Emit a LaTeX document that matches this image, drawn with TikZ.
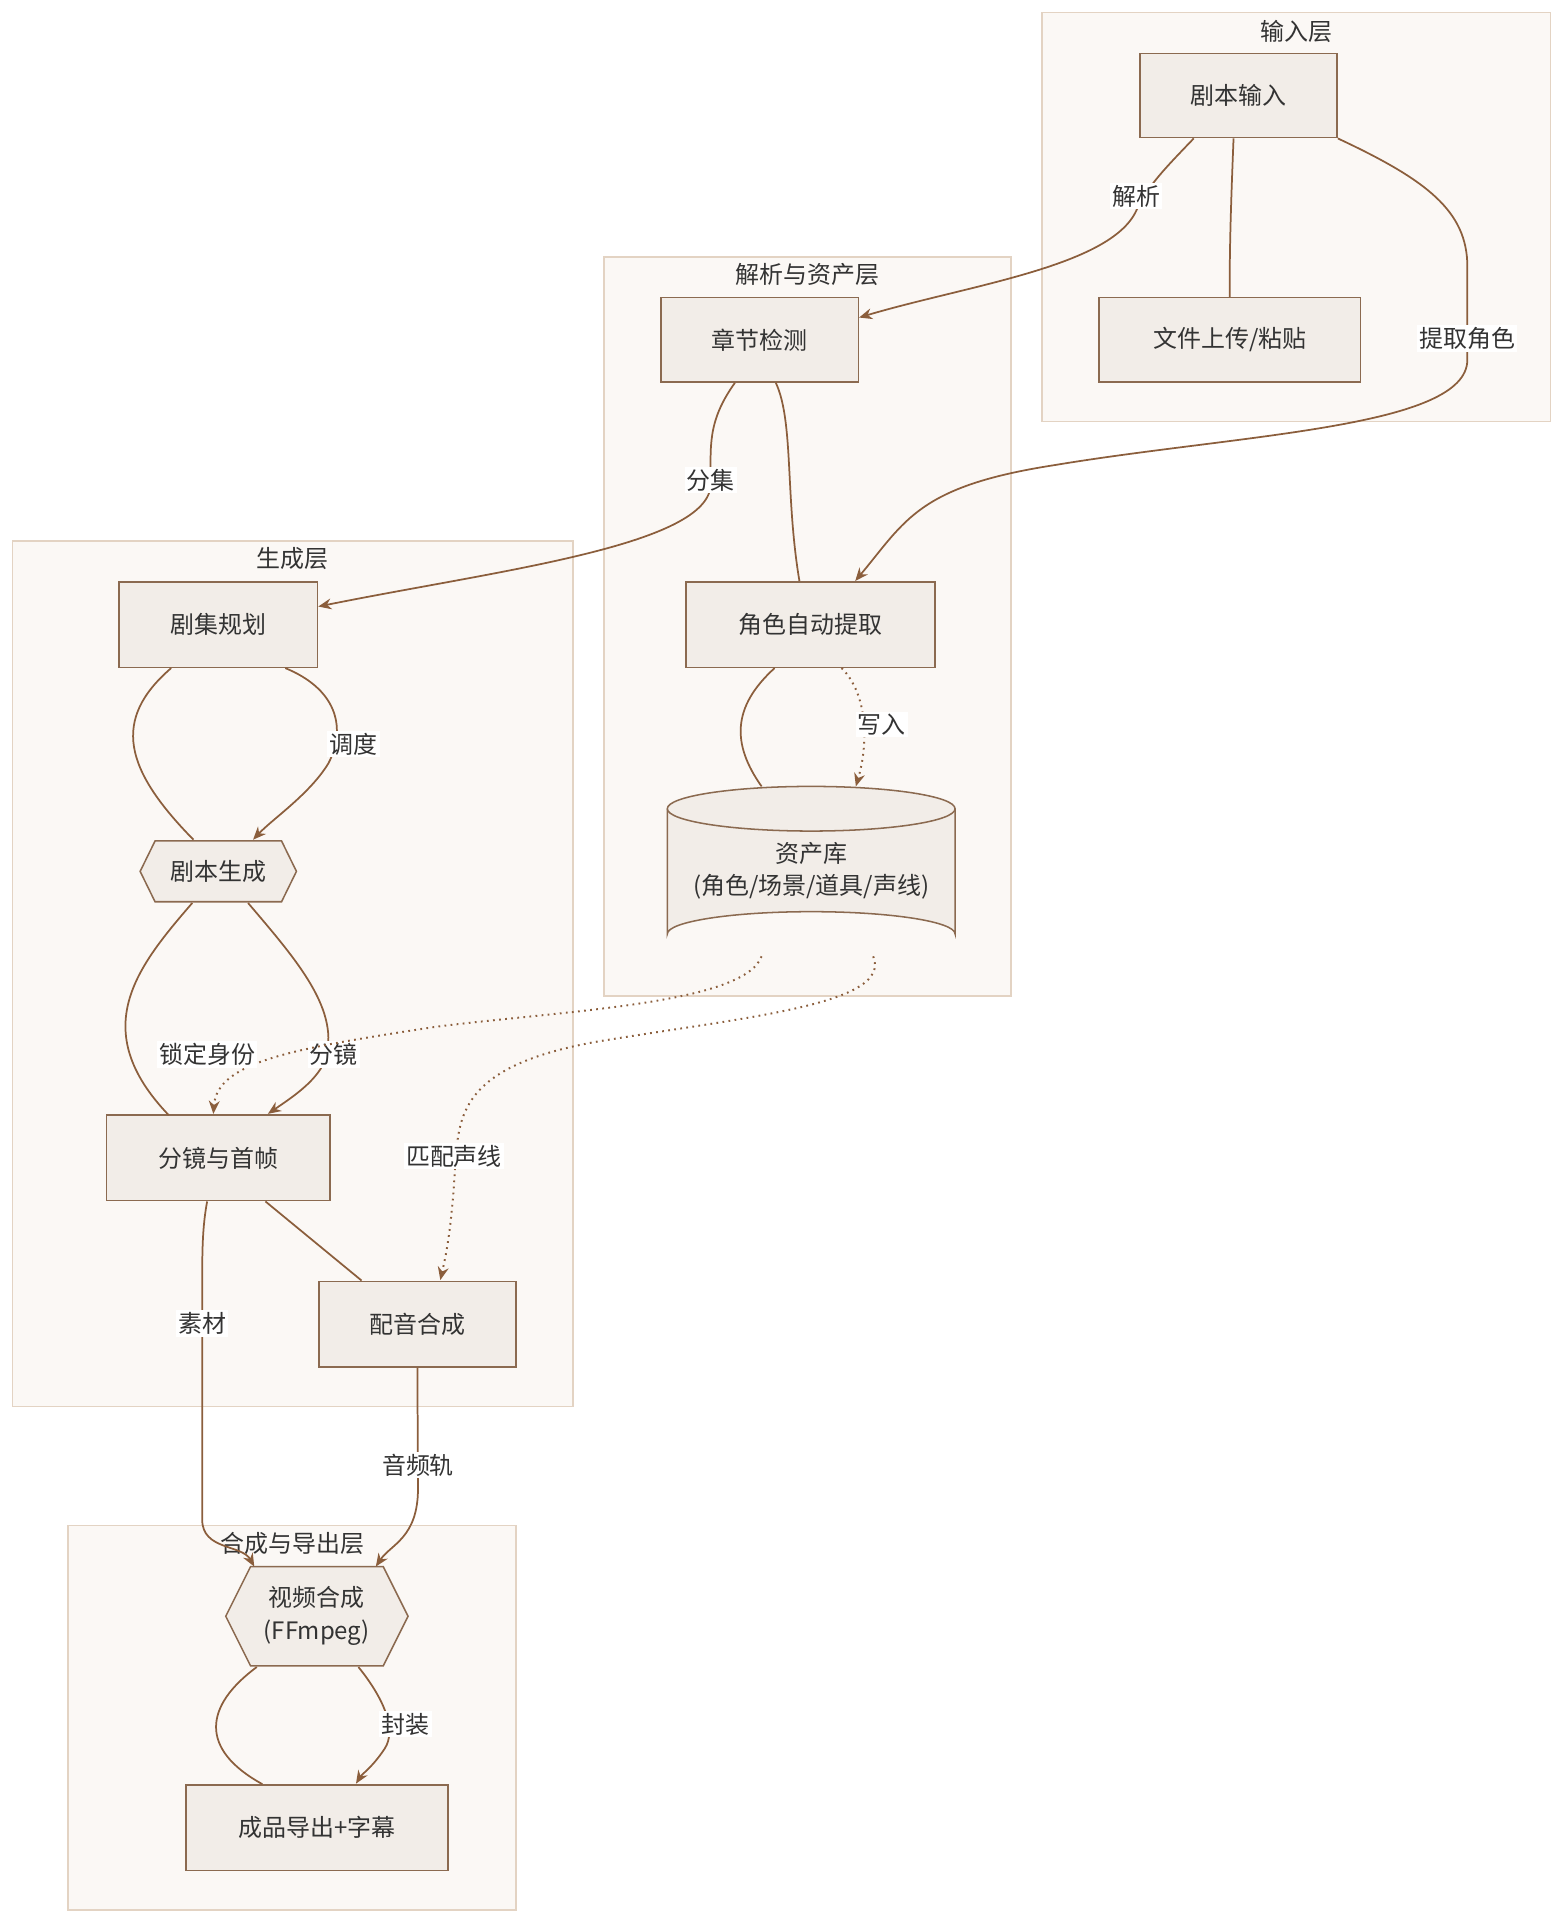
\documentclass[tikz,border=0pt]{standalone}
\usepackage{fontspec}
\setmainfont{Noto Sans CJK SC}
\usetikzlibrary{calc,arrows.meta}
\definecolor{nf}{HTML}{F2EDE8}
\definecolor{nb}{HTML}{8B6A50}
\definecolor{cf}{HTML}{FBF8F5}
\definecolor{cb}{HTML}{E3D3C3}
\definecolor{ec}{HTML}{8B5E3C}
\definecolor{tx}{HTML}{333333}
\begin{document}
\begin{tikzpicture}[x=0.02cm,y=-0.02cm,
  every node/.style={font=\fontsize{11}{14}\selectfont,text=tx},
  box/.style={draw=nb,fill=nf,line width=0.7pt,inner sep=0pt},
  clu/.style={draw=cb,fill=cf,line width=0.7pt},
  e/.style={draw=ec,line width=0.8pt},
  a/.style={e,-{Stealth[length=6pt,width=5pt]}},
  d/.style={a,dotted,line width=0.9pt},
  lab/.style={fill=white,inner sep=1pt}]
\useasboundingbox (0,0) rectangle (1264,1556);
% clusters
\fill[white] (0,0) rectangle (1264,1556);
\draw[clu] (840,10) rectangle (1250,340); \node (c1) at (1045,25) {输入层};
\draw[clu] (487,207) rectangle (815,803); \node (c2) at (651,221) {解析与资产层};
\draw[clu] (10,436) rectangle (462,1134); \node (c3) at (236,450) {生成层};
\draw[clu] (55,1230) rectangle (416,1540);
% nodes
\newcommand{\bx}[6]{\node[box,minimum width=#4*0.02cm,minimum height=#5*0.02cm] (#1) at (#2,#3) {#6};}
\bx{in}{998.5}{77}{159}{68}{剧本输入}
\bx{up}{991.5}{274}{211}{68}{文件上传/粘贴}
\bx{ch}{612.5}{274}{159}{68}{章节检测}
\bx{ro}{653.5}{503.5}{201}{69}{角色自动提取}
\bx{pl}{176}{503.5}{160}{69}{剧集规划}
\bx{sb}{176}{933.5}{180}{69}{分镜与首帧}
\bx{dub}{336.5}{1067.5}{159}{69}{配音合成}
\bx{ex}{255.5}{1473.5}{211}{69}{成品导出+字幕}
% cylinder
\draw[box] (538,652) -- (538,753) arc[start angle=180,end angle=360,x radius=116,y radius=18] -- (770,652);
\draw[box] (654,652) ellipse[x radius=116,y radius=18];
\node[align=center,inner sep=0pt,minimum width=232*0.02cm,minimum height=137*0.02cm] (as) at (654,702) {资产库\\[1pt](角色/场景/道具/声线)};
% hexagons
\draw[box] (113,702.5)--(125,678)--(227,678)--(239,702.5)--(227,727)--(125,727)--cycle;
\node[inner sep=0pt,minimum width=126*0.02cm,minimum height=49*0.02cm] (sg) at (176,702.5) {剧本生成};
\draw[box] (182,1303)--(202,1263)--(309,1263)--(329,1303)--(309,1343)--(202,1343)--cycle;
\node[align=center,inner sep=0pt,minimum width=147*0.02cm,minimum height=80*0.02cm] (vc) at (255.5,1303) {视频合成\\[1pt](FFmpeg)};
\node (c4) at (236,1244) {合成与导出层};
% edges
\draw[a] ($(in.south west)+(44,0)$) .. controls (940,135) and (925,150) .. (916,170) .. controls (895,215) and (780,230) .. (ch.east|-0,256);
\node[lab] at (916,158) {解析};
\draw[e] ($(in.south)+(-4,0)$) .. controls (993,150) and (991,200) .. (up.north);
\draw[a] (in.south east) .. controls (1150,145) and (1183,170) .. (1183,215) -- (1183,290) .. controls (1183,345) and (1000,350) .. (850,375) .. controls (740,392) and (730,420) .. ($(ro.north)+(36,0)$);
\node[lab] at (1183,273) {提取角色};
\draw[a] ($(ch.south)+(-20,0)$) .. controls (570,340) and (573,360) .. (573,390) .. controls (573,440) and (400,460) .. (pl.east|-0,489);
\node[lab] at (573,387) {分集};
\draw[e] ($(ch.south)+(13,0)$) .. controls (640,340) and (633,400) .. ($(ro.north)+(-9,0)$);
\draw[d] ($(ro.south)+(25,0)$) .. controls (700,560) and (700,600) .. (690,634);
\node[lab] at (711,584) {写入};
\draw[e] ($(ro.south)+(-29,0)$) .. controls (590,570) and (590,600) .. (614,634);
\draw[a] ($(pl.south)+(54,0)$) .. controls (270,555) and (280,585) .. (265,615) .. controls (250,640) and (220,660) .. (204,677);
\node[lab] at (285,600) {调度};
\draw[e] ($(pl.south)+(-38,0)$) .. controls (90,580) and (100,620) .. (156,677);
\draw[a] (200,728) .. controls (240,775) and (275,815) .. (262,855) .. controls (255,872) and (235,885) .. (216,898);
\node[lab] at (269,850) {分镜};
\draw[e] (155,728) .. controls (110,780) and (70,830) .. (136,899);
\draw[d] (614,771) .. controls (600,810) and (450,815) .. (350,828) .. controls (240,845) and (175,855) .. (172,898);
\node[lab] at (167,850) {锁定身份};
\draw[d] (704,771) .. controls (720,810) and (600,820) .. (480,840) .. controls (370,860) and (370,900) .. (367,940) .. controls (364,990) and (360,1010) .. (355,1032);
\node[lab] at (366,932) {匹配声线};
\draw[e] ($(sb.south)+(38,0)$) -- ($(dub.north)+(-45,0)$);
\draw[a] ($(sb.south)+(-9,0)$) .. controls (163,990) and (163,1010) .. (163,1040) -- (163,1225) .. controls (163,1250) and (195,1245) .. (205,1263);
\node[lab] at (163,1067) {素材};
\draw[a] (dub.south) -- (337,1200) .. controls (337,1240) and (315,1245) .. (303,1263);
\node[lab] at (337,1181) {音频轨};
\draw[a] (289,1344) .. controls (310,1370) and (320,1395) .. (310,1410) .. controls (300,1425) and (292,1430) .. (287,1438);
\node[lab] at (327,1390) {封装};
\draw[e] (207,1344) .. controls (165,1375) and (160,1410) .. ($(ex.north)+(-44,0)$);
\end{tikzpicture}
\end{document}
